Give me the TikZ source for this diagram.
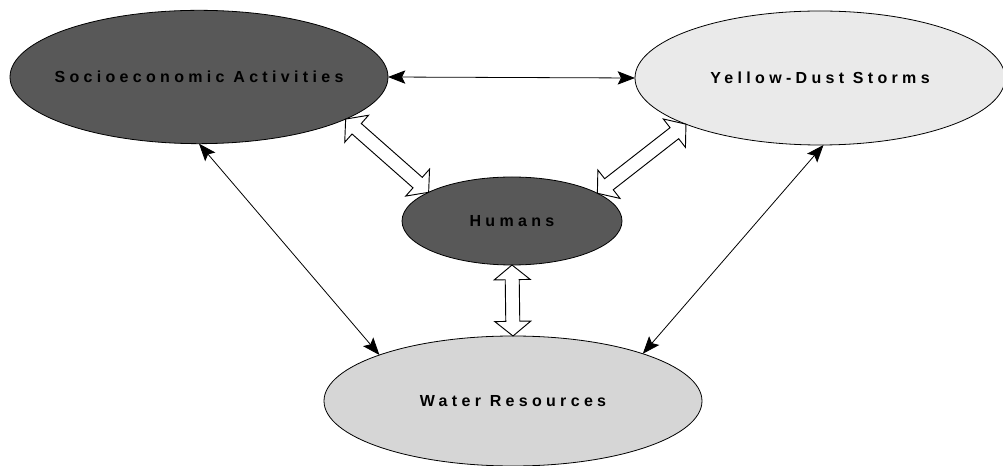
\documentclass[tikz,border=0pt]{standalone}
\usepackage{fontspec}
\usetikzlibrary{shapes.geometric,arrows.meta,calc}
\newfontfamily\labelfont[LetterSpace=27]{Liberation Sans}
\definecolor{darkfill}{RGB}{88,88,88}
\definecolor{palefill}{RGB}{234,234,234}
\definecolor{waterfill}{RGB}{214,214,214}

% open double-headed block arrow between two points
\newcommand{\widearrow}[2]{%
  \coordinate (wa1) at ($(#1)!11pt!(#2)$);
  \coordinate (wa2) at ($(#2)!11pt!(#1)$);
  \draw[hollow] (#1)
    -- ($(wa1)!13.5pt!90:(#2)$) -- ($(wa1)!5.25pt!90:(#2)$)
    -- ($(wa2)!5.25pt!-90:(#1)$) -- ($(wa2)!13.5pt!-90:(#1)$)
    -- (#2)
    -- ($(wa2)!13.5pt!90:(#1)$) -- ($(wa2)!5.25pt!90:(#1)$)
    -- ($(wa1)!5.25pt!-90:(#2)$) -- ($(wa1)!13.5pt!-90:(#2)$)
    -- cycle;}

\begin{document}
\begin{tikzpicture}[x=0.75pt,y=-0.75pt,
  >={Stealth[length=13pt,width=10pt,inset=2.5pt]},
  blob/.style={ellipse,draw,line width=0.6pt,inner xsep=-10pt,inner ysep=0pt,outer sep=0pt,
    font=\labelfont\bfseries\fontsize{12}{14}\selectfont},
  link/.style={<->,line width=0.6pt},
  hollow/.style={draw,fill=white,line width=0.7pt,line join=miter}]
\useasboundingbox (0,0) rectangle (1003,466);
\node[blob,fill=darkfill,minimum width=283.5pt,minimum height=100pt] (soc) at (199,77) {Socioeconomic Activities};
\node[blob,fill=palefill,minimum width=277.5pt,minimum height=100.5pt] (yds) at (820,78) {Yellow-Dust Storms};
\node[blob,fill=darkfill,minimum width=165pt,minimum height=66pt] (hum) at (512,221) {Humans};
\node[blob,fill=waterfill,minimum width=283.5pt,minimum height=97.5pt] (wat) at (513,401) {Water Resources};
% thin two-way links
\draw[link] (soc.east) -- (yds.west);
\draw[link] (soc.south) -- (wat.161);
\draw[link] (yds.-87) -- (wat.20);
% links through humans
\widearrow{soc.-16}{hum.161}
\widearrow{hum.18}{yds.-161}
\widearrow{hum.south}{wat.north}
\end{tikzpicture}
\end{document}
